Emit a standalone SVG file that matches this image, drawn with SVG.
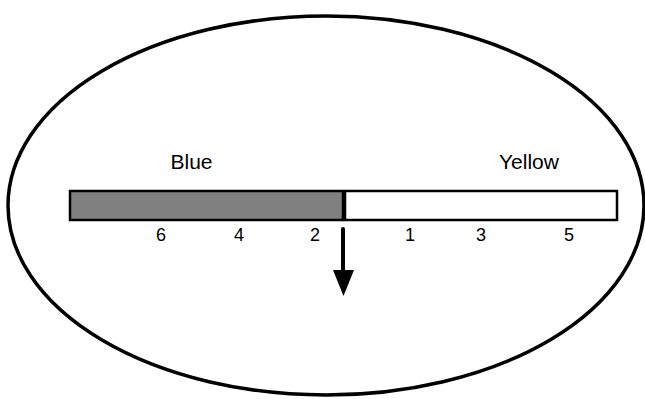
<svg xmlns="http://www.w3.org/2000/svg" width="645" height="399" viewBox="0 0 645 399">
<style>
text{font-family:"Liberation Sans",Arial,sans-serif;font-size:18px;fill:#000;text-anchor:middle}
.lbl{font-size:21px}
.bar{stroke:#000;stroke-width:2.5}
</style>
<rect width="645" height="399" fill="#fff"/>
<g id="boundary"><ellipse cx="326" cy="205.5" rx="318" ry="189.5" fill="none" stroke="#000" stroke-width="3.5"/></g>
<g id="blue"><rect class="bar" x="70" y="191" width="273" height="29" fill="#808080"/><text class="lbl" x="191.5" y="169">Blue</text></g>
<g id="yellow"><rect class="bar" x="345" y="191" width="272" height="29" fill="#fff"/><text class="lbl" x="529" y="169">Yellow</text></g>
<g id="numbers">
<text x="161" y="241">6</text><text x="239" y="241">4</text><text x="315" y="241">2</text>
<text x="410" y="241">1</text><text x="481" y="241">3</text><text x="569" y="241">5</text>
</g>
<g id="connectors">
<line x1="343" y1="229" x2="343" y2="272" stroke="#000" stroke-width="4" stroke-linecap="round"/>
<polygon points="333,270 354,270 343.5,296" fill="#000"/>
</g>
</svg>
